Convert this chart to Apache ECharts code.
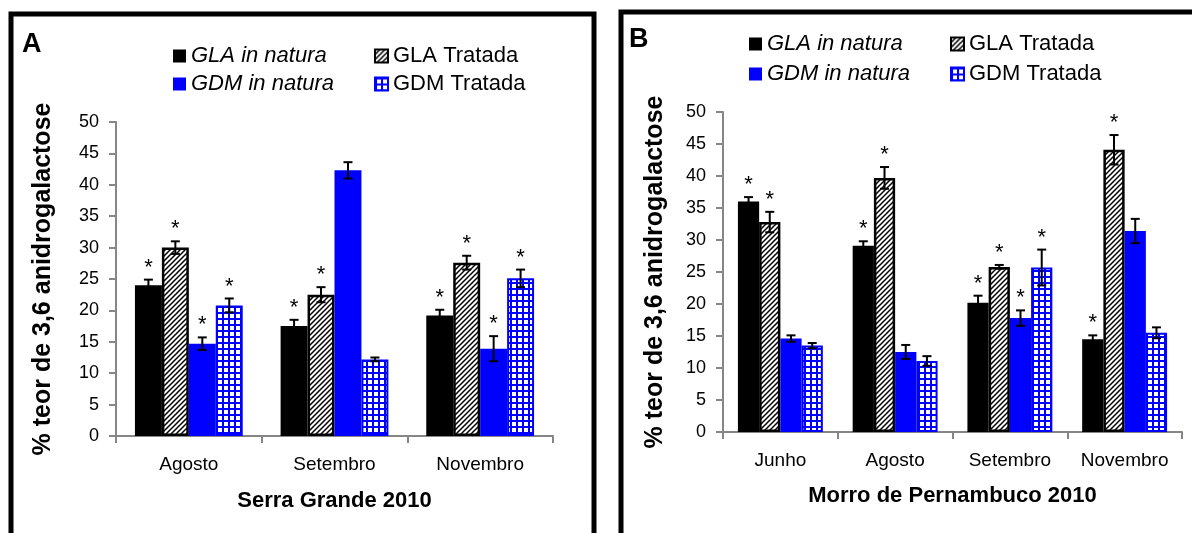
<!DOCTYPE html>
<html>
<head>
<meta charset="utf-8">
<script src="https://cdn.jsdelivr.net/npm/echarts@6/dist/echarts.min.js"></script>
<style>html,body{margin:0;padding:0;background:#fff}#c{width:1192px;height:533px}</style>
</head>
<body>
<div id="c"></div>
<script>
// ---------- DATA ----------
const seriesNames = ['GLA in natura', 'GLA Tratada', 'GDM in natura', 'GDM Tratada'];
const yTicks = [0, 5, 10, 15, 20, 25, 30, 35, 40, 45, 50];

// Panel A – Serra Grande 2010
const categoriesA = ['Agosto', 'Setembro', 'Novembro'];
const glaNaturaA  = [24.0, 17.5, 19.2];
const glaTratadaA = [30.0, 22.5, 27.6];
const gdmNaturaA  = [14.7, 42.3, 13.9];
const gdmTratadaA = [20.8, 12.2, 25.1];
const errGlaNaturaA  = [0.9, 1.0, 0.9];
const errGlaTratadaA = [1.0, 1.2, 1.1];
const errGdmNaturaA  = [1.0, 1.3, 2.0];
const errGdmTratadaA = [1.1, 0.3, 1.4];
const sigGlaNaturaA  = [1, 1, 1];
const sigGlaTratadaA = [1, 1, 1];
const sigGdmNaturaA  = [1, 0, 1];
const sigGdmTratadaA = [1, 0, 1];

// Panel B – Morro de Pernambuco 2010
const categoriesB = ['Junho', 'Agosto', 'Setembro', 'Novembro'];
const glaNaturaB  = [36.0, 29.1, 20.2, 14.5];
const glaTratadaB = [32.8, 39.7, 25.8, 44.1];
const gdmNaturaB  = [14.6, 12.5, 17.8, 31.4];
const gdmTratadaB = [13.5, 11.1, 25.7, 15.5];
const errGlaNaturaB  = [0.7, 0.7, 1.1, 0.6];
const errGlaTratadaB = [1.6, 1.7, 0.3, 2.3];
const errGdmNaturaB  = [0.5, 1.1, 1.2, 1.9];
const errGdmTratadaB = [0.4, 0.75, 2.8, 0.85];
const sigGlaNaturaB  = [1, 1, 1, 1];
const sigGlaTratadaB = [1, 1, 1, 1];
const sigGdmNaturaB  = [0, 0, 1, 0];
const sigGdmTratadaB = [0, 0, 1, 0];

const titleA = 'Serra Grande 2010';
const titleB = 'Morro de Pernambuco 2010';
const yName = '% teor de 3,6 anidrogalactose';

// ---------- STYLE ----------
const FONT = '"Liberation Sans", Arial, sans-serif';
const BLUE = '#0000FF';

function hatchPattern() {
  const c = document.createElement('canvas');
  c.width = 5; c.height = 5;
  const g = c.getContext('2d');
  g.fillStyle = '#fff'; g.fillRect(0, 0, 5, 5);
  g.strokeStyle = '#000'; g.lineWidth = 1.5;
  g.beginPath();
  g.moveTo(-1, 6); g.lineTo(6, -1);
  g.moveTo(-3, 3); g.lineTo(3, -3);
  g.moveTo(2, 8); g.lineTo(8, 2);
  g.stroke();
  return c;
}
function gridPattern() {
  const c = document.createElement('canvas');
  c.width = 6; c.height = 6;
  const g = c.getContext('2d');
  g.fillStyle = BLUE; g.fillRect(0, 0, 6, 6);
  g.fillStyle = '#fff'; g.fillRect(2, 2, 4, 4);
  return c;
}
const hatch = { image: hatchPattern(), repeat: 'repeat' };
const gridPat = { image: gridPattern(), repeat: 'repeat' };

const barStyles = [
  { color: '#000' },
  { color: hatch, borderColor: '#000', borderWidth: 2.5 },
  { color: BLUE },
  { color: gridPat, borderColor: BLUE, borderWidth: 2 }
];

function makeBars(valuesList, axisIdx) {
  return valuesList.map((vals, i) => ({
    type: 'bar',
    name: seriesNames[i],
    xAxisIndex: axisIdx, yAxisIndex: axisIdx,
    data: vals,
    barGap: '0%',
    barCategoryGap: '26%',
    itemStyle: barStyles[i],
    emphasis: { disabled: true },
    z: 2
  }));
}

function makeErrData(valuesList, errList, sigList) {
  const out = [];
  valuesList.forEach((vals, si) => {
    vals.forEach((v, ci) => out.push([ci, si, v, errList[si][ci], sigList[si][ci]]));
  });
  return out;
}

function makeRender(capHalf) {
  return function (params, api) {
    const cat = api.value(0), si = api.value(1), v = api.value(2), e = api.value(3), sig = api.value(4);
    const c = api.coord([cat, v]);
    const bw = api.size([1, 0])[0];
    const x = c[0] - 0.37 * bw + 0.185 * bw * (si + 0.5);
    const yT = api.coord([cat, v + e])[1];
    const yB = api.coord([cat, v - e])[1];
    const st = { stroke: '#000', lineWidth: 2 };
    const ch = [
      { type: 'line', shape: { x1: x, y1: yT, x2: x, y2: yB }, style: st },
      { type: 'line', shape: { x1: x - capHalf, y1: yT, x2: x + capHalf, y2: yT }, style: st },
      { type: 'line', shape: { x1: x - capHalf, y1: yB, x2: x + capHalf, y2: yB }, style: st }
    ];
    if (sig) {
      ch.push({ type: 'text', style: { text: '*', x: x, y: yT - 12, align: 'center', verticalAlign: 'middle', font: '22px ' + FONT, fill: '#000' } });
    }
    return { type: 'group', children: ch };
  };
}

const valsA = [glaNaturaA, glaTratadaA, gdmNaturaA, gdmTratadaA];
const valsB = [glaNaturaB, glaTratadaB, gdmNaturaB, gdmTratadaB];
const errA = [errGlaNaturaA, errGlaTratadaA, errGdmNaturaA, errGdmTratadaA];
const errB = [errGlaNaturaB, errGlaTratadaB, errGdmNaturaB, errGdmTratadaB];
const sigA = [sigGlaNaturaA, sigGlaTratadaA, sigGdmNaturaA, sigGdmTratadaA];
const sigB = [sigGlaNaturaB, sigGlaTratadaB, sigGdmNaturaB, sigGdmTratadaB];

const axisGray = '#868686';
function xAxis(cats, gridIdx, name, gap) {
  return {
    type: 'category', gridIndex: gridIdx, data: cats,
    name: name, nameLocation: 'middle', nameGap: gap,
    nameTextStyle: { fontSize: 22, fontWeight: 'bold', color: '#000', fontFamily: FONT },
    axisLine: { show: true, lineStyle: { color: axisGray, width: 2 } },
    axisTick: { show: true, length: 7, lineStyle: { color: axisGray, width: 2 } },
    axisLabel: { fontSize: 19, color: '#000', fontFamily: FONT, margin: 19 },
    splitLine: { show: false }
  };
}
function yAxis(gridIdx, gap) {
  return {
    type: 'value', gridIndex: gridIdx, min: yTicks[0], max: yTicks[yTicks.length - 1], interval: 5,
    name: yName, nameLocation: 'middle', nameGap: gap,
    nameTextStyle: { fontSize: 25, fontWeight: 'bold', color: '#000', fontFamily: FONT },
    axisLine: { show: true, lineStyle: { color: axisGray, width: 2 } },
    axisTick: { show: true, length: 7, lineStyle: { color: axisGray, width: 2 } },
    axisLabel: { fontSize: 18, color: '#000', fontFamily: FONT, margin: 17 },
    splitLine: { show: false }
  };
}

function legendItem(name, left, top) {
  return {
    left: left, top: top, padding: 0, itemGap: 0,
    itemWidth: 13, itemHeight: 13, icon: 'rect',
    selectedMode: false,
    data: [{ name: name, textStyle: { fontStyle: name.indexOf('in natura') >= 0 ? 'italic' : 'normal' } }],
    textStyle: { fontSize: 22, color: '#000', fontFamily: FONT }
  };
}

const option = {
  animation: false,
  backgroundColor: '#fff',
  grid: [
    { left: 116, top: 122, width: 437, height: 314 },
    { left: 723, top: 112, width: 459, height: 320 }
  ],
  xAxis: [xAxis(categoriesA, 0, titleA, 54), xAxis(categoriesB, 1, titleB, 53)],
  yAxis: [yAxis(0, 60), yAxis(1, 55)],
  legend: [
    legendItem(seriesNames[0], 173, 45),
    legendItem(seriesNames[1], 374, 45),
    legendItem(seriesNames[2], 173, 73),
    legendItem(seriesNames[3], 374, 73),
    legendItem(seriesNames[0], 749, 33),
    legendItem(seriesNames[1], 950, 33),
    legendItem(seriesNames[2], 749, 63),
    legendItem(seriesNames[3], 950, 63)
  ],
  series: [].concat(
    makeBars(valsA, 0),
    makeBars(valsB, 1),
    [{
      type: 'custom', xAxisIndex: 0, yAxisIndex: 0, z: 5, silent: true,
      renderItem: makeRender(4.5), encode: { x: 0, y: 2 },
      data: makeErrData(valsA, errA, sigA)
    }, {
      type: 'custom', xAxisIndex: 1, yAxisIndex: 1, z: 5, silent: true,
      renderItem: makeRender(4.5), encode: { x: 0, y: 2 },
      data: makeErrData(valsB, errB, sigB)
    }]
  ),
  graphic: [
    { type: 'rect', shape: { x: 11, y: 14, width: 583, height: 600 }, style: { fill: 'none', stroke: '#000', lineWidth: 5 }, silent: true },
    { type: 'rect', shape: { x: 621, y: 12, width: 700, height: 600 }, style: { fill: 'none', stroke: '#000', lineWidth: 5 }, silent: true },
    { type: 'text', left: 22, top: 31, style: { text: 'A', font: 'bold 27px ' + FONT, fill: '#000' }, silent: true },
    { type: 'text', left: 629, top: 26, style: { text: 'B', font: 'bold 27px ' + FONT, fill: '#000' }, silent: true }
  ]
};

const chart = echarts.init(document.getElementById('c'), null, { renderer: 'canvas' });
chart.setOption(option);
</script>
</body>
</html>
